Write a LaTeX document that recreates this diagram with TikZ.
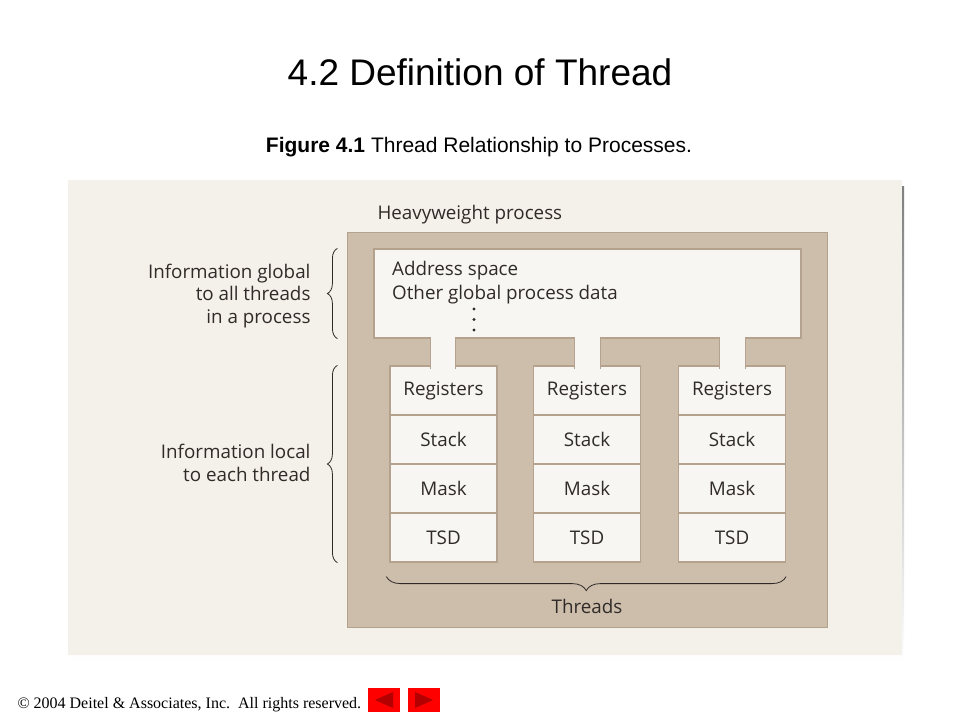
\documentclass[tikz,border=0pt]{standalone}
\usepackage{fontspec}
\setmainfont{Open Sans}
\newfontfamily\slidefont{Liberation Sans}
\newfontfamily\footfont{Liberation Serif}
\usepackage{tikz}
\usetikzlibrary{matrix,backgrounds,calc,positioning}
\usetikzlibrary{decorations.pathreplacing}

\definecolor{paper}{RGB}{244,240,234}
\definecolor{shade}{RGB}{228,230,235}
\definecolor{procbrown}{RGB}{205,190,172}
\definecolor{cellwhite}{RGB}{248,246,242}
\definecolor{cellline}{RGB}{180,162,142}
\definecolor{ink}{RGB}{48,43,40}
\definecolor{btnred}{RGB}{255,0,0}
\definecolor{btndark}{RGB}{180,0,0}

\begin{document}
\begin{tikzpicture}[x=1pt,y=-1pt,
font=\fontsize{18.8}{22.5}\selectfont, text=ink,
thread/.style={matrix of nodes,nodes={draw=cellline, fill=cellwhite, line width=1.2pt, minimum width=107pt, minimum height=49pt, inner sep=0pt},
row sep=-1.2pt, inner sep=0pt},
side/.style={align=right, anchor=east},
curly/.style={decorate, decoration={brace, amplitude=#1}, draw=ink, line width=0.8pt},
curly/.default=10,
btn/.style={fill=btnred, minimum width=32pt, minimum height=24pt, inner sep=0pt}]

    \useasboundingbox (0,0) rectangle (960,720);
    \fill[white] (0,0) rectangle (960,720);

    % slide title
    \node[font=\slidefont\fontsize{37}{44}\selectfont, text=black] (title) at (480,72) {4.2 Definition of Thread};
    \node[font=\slidefont\fontsize{21}{25}\selectfont, text=black] (caption) at (479,147) {\textbf{Figure 4.1} Thread Relationship to Processes.};

    % figure panel
    \fill[shade] (71,186) rectangle (904,661);
    \fill[paper] (68,180) rectangle (902,655);

    \node[draw=cellline, fill=procbrown, line width=0.6pt, minimum width=480pt, minimum height=395pt, inner sep=0pt] (proc) at (587,429.5) {};
    \node[anchor=west] (heavy) at (374,215) {Heavyweight process};

    \node[draw=cellline, fill=cellwhite, line width=1.2pt, minimum width=427pt, minimum height=89pt, inner sep=0pt] (addr) at (587.5,293.5) {};
    \node[anchor=north west, align=left, inner sep=0pt, font=\fontsize{18.8}{24}\selectfont] (globaldata) at (392,261) {Address space\\Other global process data};
    \foreach \y in {309,319.5,330}
        \fill[ink] (474,\y) circle (1.7pt);

    \foreach \i/\x in {1/443.5,2/587,3/732}{
        \matrix[thread] (thread\i) at (\x,464) {Registers\\ Stack\\ Mask\\ TSD\\};
    }

    % open channels from the address space into each thread
    \foreach \i/\x in {1/443,2/587.5,3/732.5}{
        \node[fill=cellwhite, minimum width=25pt, minimum height=32.5pt, inner sep=0pt] (chan\i) at (\x,353) {};
        \draw[cellline, line width=1.2pt] (chan\i.north west)--(chan\i.south west) (chan\i.north east)--(chan\i.south east);
    }

    \draw[curly] ([xshift=-36pt]addr.south west) -- ([xshift=-36pt]addr.north west);
    \node[side] (global) at (314,296) {Information global\\to all threads\\in a process};

    \draw[curly] ([xshift=-52pt]thread1-4-1.south west) -- ([xshift=-52pt]thread1-1-1.north west);
    \node[side] (local) at (314,463) {Information local\\to each thread};

    \draw[curly=14] ([yshift=-14pt]thread3-4-1.south east) -- ([yshift=-14pt,xshift=-3pt]thread1-4-1.south west);
    \node (threads) at (587,606) {Threads};

    % footer
    \node[anchor=west, font=\footfont\fontsize{16}{18}\selectfont, text=black] (footer) at (14,705) {© 2004 Deitel \& Associates, Inc.\ \ All rights reserved.};
    \node[btn] (prevbtn) at (384,700) {};
    \node[btn] (nextbtn) at (424,700) {};
    \fill[btndark] ($(prevbtn.center)+(-9,0)$) -- ++(18,-8) -- ++(0,16) -- cycle;
    \fill[btndark] ($(nextbtn.center)+(9,0)$) -- ++(-18,-8) -- ++(0,16) -- cycle;
    %
\end{tikzpicture}
\end{document}
